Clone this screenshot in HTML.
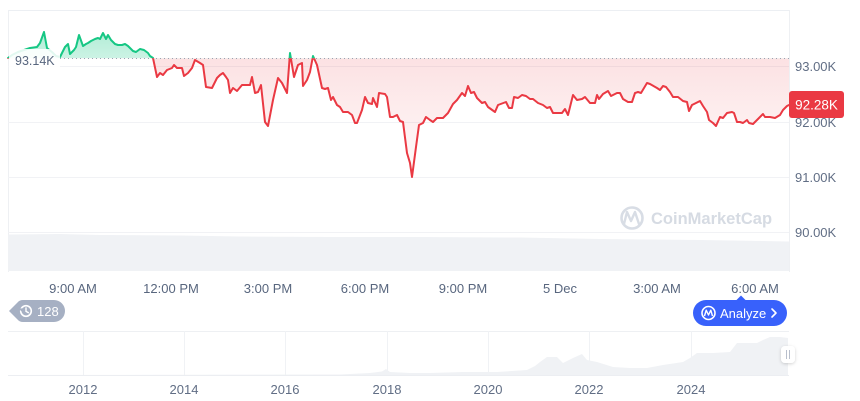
<!DOCTYPE html>
<html><head><meta charset="utf-8">
<style>
html,body{margin:0;padding:0;background:#fff;}
svg{display:block;}
text{font-family:"Liberation Sans",Arial,sans-serif;}
</style></head>
<body>
<svg width="860" height="401" viewBox="0 0 860 401" xmlns="http://www.w3.org/2000/svg" xmlns:xlink="http://www.w3.org/1999/xlink">
<defs>
  <clipPath id="above"><rect x="0" y="0" width="860" height="58.3"/></clipPath>
  <clipPath id="below"><rect x="0" y="58.3" width="860" height="240"/></clipPath>
  <linearGradient id="redg" gradientUnits="userSpaceOnUse" x1="0" y1="58" x2="0" y2="178">
    <stop offset="0" stop-color="#ea3943" stop-opacity="0.15"/>
    <stop offset="1" stop-color="#ea3943" stop-opacity="0.02"/>
  </linearGradient>
  <linearGradient id="greeng" gradientUnits="userSpaceOnUse" x1="0" y1="30" x2="0" y2="58">
    <stop offset="0" stop-color="#16c784" stop-opacity="0.34"/>
    <stop offset="1" stop-color="#16c784" stop-opacity="0.22"/>
  </linearGradient>
  <filter id="sh" x="-50%" y="-50%" width="200%" height="200%">
    <feDropShadow dx="0" dy="1" stdDeviation="1.5" flood-color="#000" flood-opacity="0.18"/>
  </filter>
  <path id="ln" d="M8,58 L12,55 L18,52 L24,50 L30,48 L37,47 L40,43 L44,32 L47,48 L52,52 L56,56 L60,57 L65,47 L68,44 L70,54 L74,50 L76,47 L79,35 L83,46 L86,44 L88,43 L91,41 L95,39 L98,38 L100,39 L103,33 L106,39 L108,35 L111,40 L115,44 L118,45 L122,45 L125,44 L128,46 L133,51 L136,52 L140,49 L144,50 L148,53 L150,56 L153,58 L157,77 L160,73 L163,75 L167,70 L172,68 L174,65 L177,68 L182,68 L184,76 L188,73 L192,68 L195,60 L200,63 L203,65 L206,87 L212,88 L217,78 L220,75 L223,73 L226,77 L228,80 L230,93 L233,88 L237,91 L242,85 L247,85 L250,85 L252,77 L255,93 L258,92 L261,85 L265,122 L268,126 L273,100 L278,78 L282,83 L287,93 L290,53 L294,77 L298,65 L302,63 L303,86 L307,80 L310,72 L313,56 L317,65 L322,88 L325,89 L328,88 L331,100 L333,97 L337,105 L340,107 L343,112 L348,112 L352,115 L355,123 L357,123 L362,110 L365,97 L368,103 L372,104 L373,98 L377,107 L379,93 L385,94 L387,97 L390,117 L393,117 L397,115 L400,121 L403,122 L407,153 L410,163 L412,177 L416,147 L419,125 L423,123 L426,117 L430,120 L433,122 L437,118 L443,118 L448,113 L453,104 L457,100 L462,93 L465,96 L468,86 L471,93 L474,92 L477,98 L482,103 L485,102 L488,107 L495,112 L498,105 L506,102 L509,108 L512,108 L514,97 L518,98 L522,95 L526,96 L530,99 L533,99 L538,103 L543,105 L547,108 L550,107 L553,113 L558,113 L562,113 L565,109 L568,115 L573,95 L577,100 L582,99 L585,97 L590,103 L595,103 L597,95 L599,99 L603,94 L608,91 L611,96 L617,93 L620,93 L623,99 L628,102 L632,102 L635,93 L638,92 L641,93 L644,88 L647,83 L650,84 L657,88 L660,90 L663,86 L666,87 L670,92 L673,97 L678,97 L683,101 L687,102 L689,111 L692,105 L696,103 L700,101 L703,106 L707,112 L709,120 L713,123 L716,126 L720,117 L723,118 L727,113 L732,112 L734,113 L737,122 L740,122 L743,123 L747,120 L749,123 L753,124 L758,119 L763,114 L765,117 L770,117 L775,118 L780,115 L783,110 L787,106 L789,105"/>
  <path id="fl" d="M8,58 L12,55 L18,52 L24,50 L30,48 L37,47 L40,43 L44,32 L47,48 L52,52 L56,56 L60,57 L65,47 L68,44 L70,54 L74,50 L76,47 L79,35 L83,46 L86,44 L88,43 L91,41 L95,39 L98,38 L100,39 L103,33 L106,39 L108,35 L111,40 L115,44 L118,45 L122,45 L125,44 L128,46 L133,51 L136,52 L140,49 L144,50 L148,53 L150,56 L153,58 L157,77 L160,73 L163,75 L167,70 L172,68 L174,65 L177,68 L182,68 L184,76 L188,73 L192,68 L195,60 L200,63 L203,65 L206,87 L212,88 L217,78 L220,75 L223,73 L226,77 L228,80 L230,93 L233,88 L237,91 L242,85 L247,85 L250,85 L252,77 L255,93 L258,92 L261,85 L265,122 L268,126 L273,100 L278,78 L282,83 L287,93 L290,53 L294,77 L298,65 L302,63 L303,86 L307,80 L310,72 L313,56 L317,65 L322,88 L325,89 L328,88 L331,100 L333,97 L337,105 L340,107 L343,112 L348,112 L352,115 L355,123 L357,123 L362,110 L365,97 L368,103 L372,104 L373,98 L377,107 L379,93 L385,94 L387,97 L390,117 L393,117 L397,115 L400,121 L403,122 L407,153 L410,163 L412,177 L416,147 L419,125 L423,123 L426,117 L430,120 L433,122 L437,118 L443,118 L448,113 L453,104 L457,100 L462,93 L465,96 L468,86 L471,93 L474,92 L477,98 L482,103 L485,102 L488,107 L495,112 L498,105 L506,102 L509,108 L512,108 L514,97 L518,98 L522,95 L526,96 L530,99 L533,99 L538,103 L543,105 L547,108 L550,107 L553,113 L558,113 L562,113 L565,109 L568,115 L573,95 L577,100 L582,99 L585,97 L590,103 L595,103 L597,95 L599,99 L603,94 L608,91 L611,96 L617,93 L620,93 L623,99 L628,102 L632,102 L635,93 L638,92 L641,93 L644,88 L647,83 L650,84 L657,88 L660,90 L663,86 L666,87 L670,92 L673,97 L678,97 L683,101 L687,102 L689,111 L692,105 L696,103 L700,101 L703,106 L707,112 L709,120 L713,123 L716,126 L720,117 L723,118 L727,113 L732,112 L734,113 L737,122 L740,122 L743,123 L747,120 L749,123 L753,124 L758,119 L763,114 L765,117 L770,117 L775,118 L780,115 L783,110 L787,106 L789,105 L789,58.3 L8,58.3 Z"/>
</defs>

<!-- frame & grid -->
<line x1="8" y1="10.5" x2="789" y2="10.5" stroke="#eceff3" stroke-width="1"/>
<line x1="8.5" y1="10" x2="8.5" y2="272" stroke="#eef0f3" stroke-width="1"/>
<line x1="789.5" y1="10" x2="789.5" y2="272" stroke="#eef0f3" stroke-width="1"/>
<line x1="8" y1="66.5" x2="789" y2="66.5" stroke="#f1f2f5" stroke-width="1"/>
<line x1="8" y1="122.5" x2="789" y2="122.5" stroke="#f1f2f5" stroke-width="1"/>
<line x1="8" y1="177.5" x2="789" y2="177.5" stroke="#f1f2f5" stroke-width="1"/>
<line x1="8" y1="232.5" x2="789" y2="232.5" stroke="#f1f2f5" stroke-width="1"/>

<!-- volume -->
<path d="M8,234.5 L60,234 L100,235 L180,235.5 L240,236.5 L330,237 L420,237 L520,237.5 L600,239 L700,240 L789,241.5 L789,271 L8,271 Z" fill="#f0f2f5"/>

<!-- watermark -->
<g>
  <circle cx="632" cy="218" r="10.5" fill="none" stroke="#d8dde5" stroke-width="2.6"/>
  <path d="M624,224 L627,212 L631,221 L635,212 L639,224" fill="none" stroke="#d8dde5" stroke-width="2.4" stroke-linejoin="round" stroke-linecap="round"/>
  <text x="651" y="224" font-size="16.5" font-weight="bold" fill="#d6dbe3">CoinMarketCap</text>
</g>

<!-- price series fills -->
<use href="#fl" xlink:href="#fl" clip-path="url(#above)" fill="url(#greeng)"/>
<use href="#fl" xlink:href="#fl" clip-path="url(#below)" fill="url(#redg)"/>

<!-- baseline dotted -->
<line x1="60" y1="58.5" x2="789" y2="58.5" stroke="#9aa3b2" stroke-width="1" stroke-dasharray="1 3"/>

<!-- price lines -->
<g fill="none" stroke-width="2" stroke-linejoin="round" stroke-linecap="round">
<use href="#ln" xlink:href="#ln" clip-path="url(#above)" stroke="#16c784"/>
<use href="#ln" xlink:href="#ln" clip-path="url(#below)" stroke="#ea3943"/>
</g>

<!-- left label 93.14K -->
<rect x="9" y="49" width="51" height="21" fill="#fff" fill-opacity="0.88"/>
<text x="15" y="65" font-size="12.5" fill="#58667e">93.14K</text>

<!-- y-axis labels -->
<g font-size="13" fill="#616e85">
<text x="795" y="71">93.00K</text>
<text x="795" y="127">92.00K</text>
<text x="795" y="182">91.00K</text>
<text x="795" y="237">90.00K</text>
</g>
<rect x="789" y="91" width="55" height="27" rx="3" fill="#ea3943"/>
<text x="816.5" y="109.5" font-size="13.5" fill="#fff" text-anchor="middle">92.28K</text>

<!-- time labels -->
<g font-size="13" fill="#58667e" text-anchor="middle">
<text x="73" y="293">9:00 AM</text>
<text x="171" y="293">12:00 PM</text>
<text x="268" y="293">3:00 PM</text>
<text x="365" y="293">6:00 PM</text>
<text x="463" y="293">9:00 PM</text>
<text x="560" y="293">5 Dec</text>
<text x="657" y="293">3:00 AM</text>
<text x="755" y="293">6:00 AM</text>
</g>

<!-- 128 badge -->
<path d="M9,311 L17.5,302.5 Q19.5,300 23,300 L54,300 A11,11 0 0 1 54,322 L23,322 Q19.5,322 17.5,319.5 Z" fill="#a6b0c3"/>
<circle cx="26" cy="311" r="5.3" fill="none" stroke="#fff" stroke-width="1.6"/>
<path d="M26,308 L26,311.3 L28.3,312.6" fill="none" stroke="#fff" stroke-width="1.4" stroke-linecap="round"/>
<path d="M19.5,308.5 L21.3,310.6 L23,308.4" fill="#a6b0c3" stroke="#a6b0c3" stroke-width="1"/>
<text x="37" y="316" font-size="13" fill="#fff">128</text>

<!-- Analyze button -->
<path d="M736,300.5 L741,295.5 L746,300.5 Z" fill="#3861fb"/>
<rect x="693" y="300" width="94" height="26" rx="13" fill="#3861fb"/>
<circle cx="708.5" cy="313" r="6.5" fill="none" stroke="#fff" stroke-width="1.6"/>
<path d="M704.5,316 L706.2,310.2 L708.5,315 L710.8,310.2 L712.5,316" fill="none" stroke="#fff" stroke-width="1.4" stroke-linejoin="round"/>
<text x="720" y="318" font-size="13" fill="#fff">Analyze</text>
<path d="M772,309 L776,313 L772,317" fill="none" stroke="#fff" stroke-width="1.6" stroke-linecap="round" stroke-linejoin="round"/>

<!-- navigator -->
<line x1="8" y1="331.5" x2="789" y2="331.5" stroke="#eef0f3" stroke-width="1"/>
<g stroke="#f0f2f5" stroke-width="1">
<line x1="83.5" y1="331" x2="83.5" y2="375"/>
<line x1="184.5" y1="331" x2="184.5" y2="375"/>
<line x1="285.5" y1="331" x2="285.5" y2="375"/>
<line x1="387.5" y1="331" x2="387.5" y2="375"/>
<line x1="488.5" y1="331" x2="488.5" y2="375"/>
<line x1="589.5" y1="331" x2="589.5" y2="375"/>
<line x1="691.5" y1="331" x2="691.5" y2="375"/>
</g>
<path d="M8,375 L340,374.5 L370,373 L382,371.5 L386,369 L390,372 L410,373 L430,373 L463,372 L497,372 L527,370 L535,366 L540,362 L547,357 L557,357 L563,363 L573,358 L582,354 L587,360 L597,362 L613,367 L630,368 L647,368 L663,365 L683,362 L690,358 L697,353 L713,353 L730,352 L737,343 L747,343 L757,343 L763,340 L770,337 L780,337 L788,338 L788,375 Z" fill="#f0f2f5"/>
<line x1="8" y1="375.5" x2="789" y2="375.5" stroke="#eceef2" stroke-width="1"/>
<rect x="781" y="346" width="14" height="17" rx="4" fill="#fff" filter="url(#sh)"/>
<line x1="786.5" y1="350" x2="786.5" y2="359" stroke="#b8bfcc" stroke-width="1"/>
<line x1="789.5" y1="350" x2="789.5" y2="359" stroke="#b8bfcc" stroke-width="1"/>

<!-- year labels -->
<g font-size="13" fill="#616e85" text-anchor="middle">
<text x="83" y="394">2012</text>
<text x="184" y="394">2014</text>
<text x="285" y="394">2016</text>
<text x="387" y="394">2018</text>
<text x="488" y="394">2020</text>
<text x="589" y="394">2022</text>
<text x="691" y="394">2024</text>
</g>
</svg>
</body></html>
